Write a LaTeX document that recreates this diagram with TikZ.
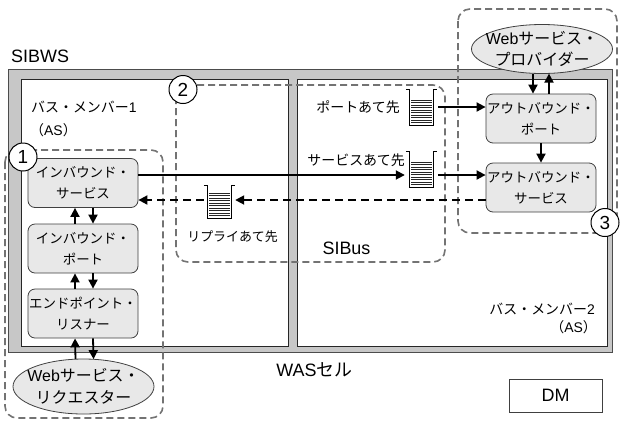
\documentclass[tikz,border=0pt]{standalone}
\usepackage{fontspec}
\setmainfont{Liberation Sans}
\newfontfamily\jp{Noto Sans CJK JP}
\usetikzlibrary{arrows.meta,shapes.geometric,calc}
\newcommand{\qdraw}[1]{%
  \draw[line width=1.1bp,black] ($(#1.north west)+(-4,0)$) -- (#1.north west) -- (#1.south west) -- (#1.south east) -- (#1.north east) -- ($(#1.north east)+(4,0)$);
  \foreach \k in {1,...,10}{\draw[line width=0.5bp,black!85] ($(#1.south west)+(1.5,-\k*2.5)$) -- ($(#1.south east)+(-1.5,-\k*2.5)$);}
}
\tikzset{
  box/.style={draw=black!75, fill=black!9, rounded corners=7bp, minimum width=110bp, minimum height=49bp, align=center, inner sep=0pt, font=\fontsize{13.5}{21}\selectfont\jp, line width=0.8bp},
  ell/.style={ellipse, draw=black!75, fill=black!9, minimum width=141bp, minimum height=55bp, align=center, inner xsep=-12bp, inner ysep=-6bp, font=\fontsize{16}{22}\selectfont\jp, line width=0.8bp},
  circ/.style={circle, draw=black, fill=white, line width=1bp, minimum size=28bp, inner sep=0pt, font=\fontsize{19}{19}\selectfont},
  dreg/.style={draw=black!55, dash pattern=on 7bp off 4bp, line width=1.6bp, rounded corners=12bp},
  arr/.style={line width=1.8bp, -{Triangle[length=9bp,width=9bp]}},
  darr/.style={arr, dash pattern=on 8bp off 5bp},
  qbox/.style={minimum width=23bp, minimum height=33bp, inner sep=0pt},
  lbl/.style={inner sep=0pt, font=\fontsize{14}{19}\selectfont\jp, align=left},
  lat/.style={inner sep=0pt, font=\fontsize{18}{20}\selectfont},
}
\begin{document}
\begin{tikzpicture}[x=1bp,y=-1bp]
\useasboundingbox[fill=white] (0,0) rectangle (620,420);
% frame
\fill[black!22] (8,69) rectangle (612,352);
\draw[black!70, line width=0.8bp] (8,69) rectangle (612,352);
\draw[draw=black!85, fill=white, line width=0.8bp] (21,79) rectangle (288,346);
\draw[draw=black!85, fill=white, line width=0.8bp] (297,79) rectangle (607,346);
% dashed regions
\draw[dreg] (5,150) rectangle (163,418);
\draw[dreg] (176,85) rectangle (445,262);
\draw[dreg] (458,9) rectangle (617,233);
% labels
\node[lat, anchor=west] (sibws) at (11,56) {SIBWS};
\node[lbl, anchor=west] (bm1) at (31,107) {バス・メンバー{\rmfamily 1}};
\node[lbl, anchor=west] (as1) at (30,130) {（{\rmfamily AS}）};
\node[lbl, anchor=east] (bm2) at (595,309) {バス・メンバー{\rmfamily 2}};
\node[lbl, anchor=east] (as2) at (597,327) {（{\rmfamily AS}）};
\node[lat] (was) at (314.5,370) {WAS{\jp セル}};
\node[lat] (sibus) at (346.5,248) {SIBus};
\node[lat, draw=black!75, line width=0.8bp, minimum width=93bp, minimum height=33bp] (dm) at (555.5,395.5) {DM};
% nodes
\node[box] (is) at (83,183) {インバウンド・\\サービス};
\node[box] (ip) at (83,248.5) {インバウンド・\\ポート};
\node[box] (el) at (83,313.5) {エンドポイント・\\リスナー};
\node[ell] (req) at (83.5,386.5) {{\rmfamily Web}サービス・\\リクエスター};
\node[ell, minimum height=49bp] (prov) at (542,49) {{\rmfamily Web}サービス・\\プロバイダー};
\node[box] (op) at (541,118.5) {アウトバウンド・\\ポート};
\node[box] (os) at (541,187.5) {アウトバウンド・\\サービス};
% queues
\node[qbox, minimum height=35bp] (qp) at (421.5,107.5) {};
\node[qbox, minimum height=35bp] (qs) at (421.5,169.5) {};
\node[qbox, minimum height=32bp] (qr) at (219.5,202) {};
\qdraw{qp}\qdraw{qs}\qdraw{qr}
\node[lbl, anchor=east] (lp) at (400,107) {ポートあて先};
\node[lbl, anchor=east] (ls) at (405,160) {サービスあて先};
\node[lbl, font=\fontsize{13}{19}\selectfont\jp] (lr) at (232.5,237) {リプライあて先};
% arrows
\coordinate (yp) at (0,107);
\coordinate (ys) at (0,175);
\coordinate (yr) at (0,200);
\draw[arr] (is.east |- ys) -- ($(qs.west |- ys)+(-5,0)$);
\draw[arr] ($(qs.east |- ys)+(5,0)$) -- (os.west |- ys);
\draw[arr] ($(qp.east |- yp)+(5,0)$) -- (op.west |- yp);
\draw[darr] (os.west |- yr) -- ($(qr.east |- yr)+(4,0)$);
\draw[darr] ($(qr.west |- yr)+(-4,0)$) -- (is.east |- yr);
\draw[arr] ($(ip.north)+(-8,0)$) -- ($(is.south)+(-8,0)$);
\draw[arr] ($(is.south)+(10,0)$) -- ($(ip.north)+(10,0)$);
\draw[arr] ($(el.north)+(-8,0)$) -- ($(ip.south)+(-8,0)$);
\draw[arr] ($(ip.south)+(10,0)$) -- ($(el.north)+(10,0)$);
\draw[arr] ($(req.north)+(-8,0.3)$) -- ($(el.south)+(-8,0)$);
\draw[arr] ($(el.south)+(10,0)$) -- ($(req.north)+(10,0.5)$);
\draw[arr] ($(prov.south)+(-9,-0.4)$) -- ($(op.north)+(-8,0)$);
\draw[arr] ($(op.north)+(8,0)$) -- ($(prov.south)+(7,-0.3)$);
\draw[arr] (op.south) -- (os.north);
% circles
\node[circ] (c1) at (23,157) {1};
\node[circ] (c2) at (183,89.5) {2};
\node[circ] (c3) at (605,222.5) {3};
\end{tikzpicture}
\end{document}
